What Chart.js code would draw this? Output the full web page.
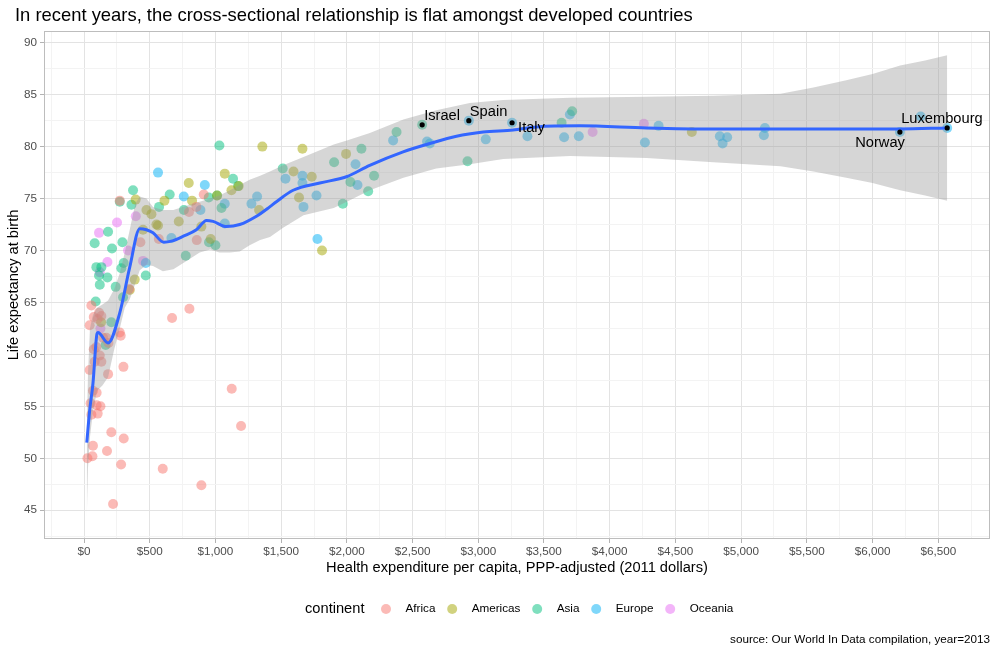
<!DOCTYPE html>
<html>
<head>
<meta charset="utf-8">
<title>Life expectancy vs health expenditure</title>
<script src="https://cdn.jsdelivr.net/npm/chart.js@4.4.0/dist/chart.umd.min.js"></script>
<style>
  html, body { margin: 0; padding: 0; background: #fff; }
  #wrap { width: 998px; height: 654px; }
</style>
</head>
<body>
<div id="wrap"><canvas id="chart" width="998" height="654"></canvas></div>
<script>
// [health expenditure per capita (2011 $), life expectancy]
const africa = [
  [26, 50.0], [64, 50.2], [68, 51.2], [208, 52.5], [302, 51.9], [175, 50.7], [282, 49.4],
  [599, 49.0], [893, 47.4], [221, 45.6], [1124, 56.7], [1195, 53.1], [670, 63.5], [802, 64.4],
  [300, 58.8], [183, 58.1], [43, 58.5], [68, 56.5], [96, 56.3], [50, 55.3], [96, 55.1],
  [125, 55.0], [104, 54.3], [56, 54.2], [120, 59.9], [81, 59.3], [132, 59.3], [94, 60.7],
  [74, 60.5], [145, 61.6], [170, 61.6], [186, 61.1], [272, 62.1], [279, 61.8], [43, 62.8],
  [74, 63.6], [104, 63.4], [114, 64.0], [132, 63.7], [56, 64.7], [429, 70.8], [569, 71.1],
  [858, 71.0], [799, 73.7], [855, 74.2], [911, 75.4], [345, 66.3], [272, 74.8]
];
const americas = [
  [130, 63.1], [386, 67.2], [348, 66.2], [449, 72.0], [393, 74.9], [475, 73.9], [513, 73.5],
  [551, 72.5], [563, 72.4], [612, 74.8], [721, 72.8], [797, 76.5], [822, 74.8], [893, 72.3],
  [964, 71.1], [1012, 75.3], [1071, 77.4], [1122, 75.8], [1177, 76.2], [1332, 73.9],
  [1357, 80.0], [1594, 77.6], [1636, 75.1], [1662, 79.8], [1733, 77.1], [1811, 70.0],
  [1994, 79.3], [4625, 81.4]
];
const asia = [
  [81, 70.7], [183, 71.8], [292, 70.8], [213, 70.2], [94, 68.4], [132, 68.4], [114, 67.6],
  [178, 67.4], [120, 66.7], [241, 66.5], [284, 68.3], [302, 68.8], [470, 67.6], [297, 65.5],
  [89, 65.1], [208, 63.1], [165, 60.9], [774, 69.5], [951, 70.8], [1000, 70.5], [272, 74.7],
  [361, 74.4], [373, 75.8], [571, 74.2], [652, 75.4], [760, 73.9], [949, 75.1], [1012, 75.3],
  [1046, 74.1], [1134, 76.9], [1172, 76.2], [1030, 80.1], [1512, 77.9], [1903, 78.5],
  [2111, 79.8], [2027, 76.6], [2162, 75.7], [2207, 77.2], [1969, 74.5], [2378, 81.4],
  [2573, 82.1], [2918, 78.6], [3634, 82.3], [3714, 83.4]
];
const europe = [
  [470, 68.8], [563, 77.5], [665, 71.2], [759, 75.2], [886, 73.9], [919, 76.3], [1071, 74.5],
  [1071, 72.6], [1274, 74.5], [1317, 75.2], [1533, 76.9], [1662, 77.2], [1662, 76.5],
  [1670, 74.2], [1769, 75.3], [1776, 71.1], [2066, 78.3], [2081, 76.3], [2352, 80.6],
  [2610, 80.5], [2631, 80.3], [2928, 82.5], [3057, 80.7], [3257, 82.3], [3374, 81.0],
  [3653, 80.9], [3697, 83.1], [3765, 81.0], [4268, 80.4], [4372, 82.0], [4838, 81.0],
  [4894, 80.9], [4859, 80.3], [5181, 81.8], [5173, 81.1], [6208, 81.4], [6366, 82.9],
  [6568, 81.8]
];
const oceania = [
  [114, 71.7], [251, 72.7], [335, 70.0], [178, 68.9], [120, 67.9], [449, 69.0], [125, 62.5],
  [394, 73.3], [3870, 81.4], [4260, 82.2]
];

// labelled countries
const namedCountries = ['Israel', 'Spain', 'Italy', 'Norway', 'Luxembourg'];
const namedX = [2573, 2928, 3257, 6208, 6568];
const namedY = [82.1, 82.5, 82.3, 81.4, 81.8];

// loess fit and its confidence band
const smoothX = [21, 43, 68, 99, 106, 183, 272, 348, 424, 475, 525, 607, 665, 760, 855, 932, 982,
  1084, 1185, 1312, 1413, 1464, 1591, 1794, 1997, 2174, 2428, 2631, 2834, 3037, 3265, 3443,
  3773, 4280, 4787, 5295, 5803, 6208, 6568];
const smoothY = [51.5, 54.6, 57.2, 62.0, 62.1, 61.1, 64.0, 68.4, 72.1, 72.0, 71.7, 70.8, 70.9,
  71.4, 72.0, 72.9, 72.8, 72.3, 72.5, 73.3, 74.2, 74.7, 75.8, 76.5, 77.1, 78.2, 79.5, 80.3,
  81.0, 81.4, 81.6, 81.9, 82.0, 81.8, 81.7, 81.7, 81.7, 81.7, 81.8];
const bandX = [21, 30, 45, 68, 99, 140, 183, 230, 272, 310, 348, 390, 424, 475, 525, 600, 680,
  780, 880, 960, 1030, 1110, 1185, 1260, 1340, 1415, 1515, 1670, 1900, 2000, 2175, 2430, 2680,
  2935, 3190, 3700, 4280, 4790, 5300, 5550, 5800, 6000, 6210, 6400, 6568];
const bandUpper = [52.5, 58, 62.5, 63.8, 64.5, 64.8, 65.2, 66.3, 67.8, 69.8, 72.0, 74.5, 75.2,
  75.0, 74.2, 73.9, 73.9, 74.3, 74.7, 75.0, 75.3, 75.8, 76.3, 76.8, 77.2, 77.6, 78.2, 79.0,
  80.2, 80.6, 81.3, 82.6, 83.5, 84.2, 84.5, 84.7, 84.8, 84.9, 85.1, 85.7, 86.4, 87.0, 87.8,
  88.3, 88.8];
const bandLower = [44.3, 49, 52, 54.5, 56.5, 57.0, 57.8, 60.5, 62.5, 64.5, 65.3, 66.8, 68.1,
  68.6, 68.5, 68.0, 68.2, 69.0, 69.8, 70.1, 69.8, 69.8, 69.9, 70.5, 71.0, 71.3, 72.2, 73.4,
  74.1, 74.7, 75.8, 77.0, 77.9, 78.3, 78.8, 79.1, 78.9, 78.5, 78.1, 77.6, 77.0, 76.5, 75.8,
  75.3, 74.8];

// axes
const xMajorTicks = [0, 500, 1000, 1500, 2000, 2500, 3000, 3500, 4000, 4500, 5000, 5500, 6000, 6500];
const yMajorTicks = [45, 50, 55, 60, 65, 70, 75, 80, 85, 90];

const continents = ['Africa', 'Americas', 'Asia', 'Europe', 'Oceania'];
const continentColors = ['#F8766D', '#A3A500', '#00BF7D', '#00B0F6', '#E76BF3'];
const pointSets = [africa, americas, asia, europe, oceania];

const FONT = '"Liberation Sans", Arial, Helvetica, sans-serif';
const titleText = 'In recent years, the cross-sectional relationship is flat amongst developed countries';
const xTitle = 'Health expenditure per capita, PPP-adjusted (2011 dollars)';
const yTitle = 'Life expectancy at birth';
const caption = 'source: Our World In Data compilation, year=2013';

function rgba(hex, a) {
  const n = parseInt(hex.slice(1), 16);
  return `rgba(${(n >> 16) & 255},${(n >> 8) & 255},${n & 255},${a})`;
}

// major ticks plus the minor ones halfway between (and one beyond each end)
function withMinor(major, step) {
  const out = [major[0] - step / 2];
  major.forEach(v => { out.push(v); out.push(v + step / 2); });
  return out;
}
const xTicks = withMinor(xMajorTicks, 500);
const yTicks = withMinor(yMajorTicks, 5).filter(v => v < 91);

const isMajor = (v, step) => Math.abs(v / step - Math.round(v / step)) < 1e-6;

// country-name offsets from their point, in pixels
const labelOffsets = {
  Israel: [2, -9, 'left'],
  Spain: [1, -9, 'left'],
  Italy: [6, 5, 'left'],
  Norway: [5, 11, 'right'],
  Luxembourg: [-46, -9, 'left']
};

const textPlugin = {
  id: 'ggText',
  afterDraw(chart) {
    const { ctx, chartArea: a, scales: { x, y } } = chart;
    ctx.save();

    ctx.strokeStyle = '#bdbdbd';
    ctx.lineWidth = 1;
    ctx.strokeRect(Math.round(a.left) + 0.5, Math.round(a.top) + 0.5,
      Math.round(a.right - a.left) - 1, Math.round(a.bottom - a.top) - 1);

    ctx.fillStyle = '#000';
    ctx.textBaseline = 'alphabetic';
    ctx.textAlign = 'left';
    ctx.font = `18.4px ${FONT}`;
    ctx.fillText(titleText, 15, 21);

    ctx.font = `14.67px ${FONT}`;
    ctx.textAlign = 'center';
    ctx.fillText(xTitle, (a.left + a.right) / 2, 572);

    ctx.save();
    ctx.translate(18, (a.top + a.bottom) / 2);
    ctx.rotate(-Math.PI / 2);
    ctx.fillText(yTitle, 0, 0);
    ctx.restore();

    // country labels
    ctx.textBaseline = 'middle';
    namedCountries.forEach((name, i) => {
      const [dx, dy, align] = labelOffsets[name];
      ctx.textAlign = align;
      ctx.fillText(name, x.getPixelForValue(namedX[i]) + dx, y.getPixelForValue(namedY[i]) + dy);
    });

    // legend
    const ly = 609;
    ctx.textAlign = 'left';
    ctx.fillText('continent', 305, ly);
    ctx.font = `11.7px ${FONT}`;
    let cx = 386;
    continents.forEach((name, i) => {
      ctx.beginPath();
      ctx.arc(cx, ly, 5, 0, Math.PI * 2);
      ctx.fillStyle = rgba(continentColors[i], 0.5);
      ctx.fill();
      ctx.fillStyle = '#000';
      ctx.fillText(name, cx + 19.5, ly);
      cx += 19.5 + ctx.measureText(name).width + 16.8;
    });

    ctx.textAlign = 'right';
    ctx.fillText(caption, 990, 640);
    ctx.restore();
  }
};

const toXY = arr => arr.map(([x, y]) => ({ x, y }));
const zipXY = (xs, ys) => xs.map((x, i) => ({ x, y: ys[i] }));

const datasets = [
  ...pointSets.map((arr, i) => ({
    label: continents[i],
    data: toXY(arr),
    backgroundColor: rgba(continentColors[i], 0.5),
    borderWidth: 0,
    pointRadius: 5,
    order: 5
  })),
  {
    type: 'line', label: 'upper', data: zipXY(bandX, bandUpper),
    borderColor: 'rgba(0,0,0,0)', borderWidth: 0, pointRadius: 0, fill: false, order: 3
  },
  {
    type: 'line', label: 'lower', data: zipXY(bandX, bandLower),
    borderColor: 'rgba(0,0,0,0)', borderWidth: 0, pointRadius: 0,
    fill: '-1', backgroundColor: 'rgba(153,153,153,0.4)', order: 3
  },
  {
    type: 'line', label: 'loess', data: zipXY(smoothX, smoothY),
    borderColor: '#3366FF', borderWidth: 3, pointRadius: 0, fill: false,
    cubicInterpolationMode: 'monotone', order: 2
  },
  {
    label: 'named', data: zipXY(namedX, namedY),
    backgroundColor: '#000', borderWidth: 0, pointRadius: 2.6, order: 1
  }
];

new Chart(document.getElementById('chart'), {
  type: 'scatter',
  data: { datasets },
  plugins: [textPlugin],
  options: {
    responsive: false,
    animation: false,
    layout: { padding: { left: 0, right: 8, top: 31, bottom: 95 } },
    plugins: { legend: { display: false }, tooltip: { enabled: false } },
    scales: {
      x: {
        type: 'linear',
        min: -304.5,
        max: 6893.7,
        afterBuildTicks: s => { s.ticks = xTicks.map(v => ({ value: v })); },
        afterFit: s => { s.height = 20; },
        ticks: {
          autoSkip: false,
          maxRotation: 0,
          padding: 2,
          color: '#4d4d4d',
          font: { family: FONT, size: 11.7 },
          callback: v => isMajor(v, 500) ? '$' + v.toLocaleString('en-US') : ''
        },
        grid: {
          color: c => isMajor(c.tick.value, 500) ? '#e3e3e3' : '#f3f3f3',
          tickColor: c => isMajor(c.tick.value, 500) ? '#b3b3b3' : 'rgba(0,0,0,0)',
          lineWidth: 1,
          tickLength: 4
        },
        border: { display: false }
      },
      y: {
        type: 'linear',
        min: 42.23,
        max: 91.13,
        afterBuildTicks: s => { s.ticks = yTicks.map(v => ({ value: v })); },
        afterFit: s => { s.width = 44; },
        ticks: {
          autoSkip: false,
          padding: 3,
          color: '#4d4d4d',
          font: { family: FONT, size: 11.7 },
          callback: v => isMajor(v, 5) ? String(v) : ''
        },
        grid: {
          color: c => isMajor(c.tick.value, 5) ? '#e3e3e3' : '#f3f3f3',
          tickColor: c => isMajor(c.tick.value, 5) ? '#b3b3b3' : 'rgba(0,0,0,0)',
          lineWidth: 1,
          tickLength: 4
        },
        border: { display: false }
      }
    }
  }
});
</script>
</body>
</html>
